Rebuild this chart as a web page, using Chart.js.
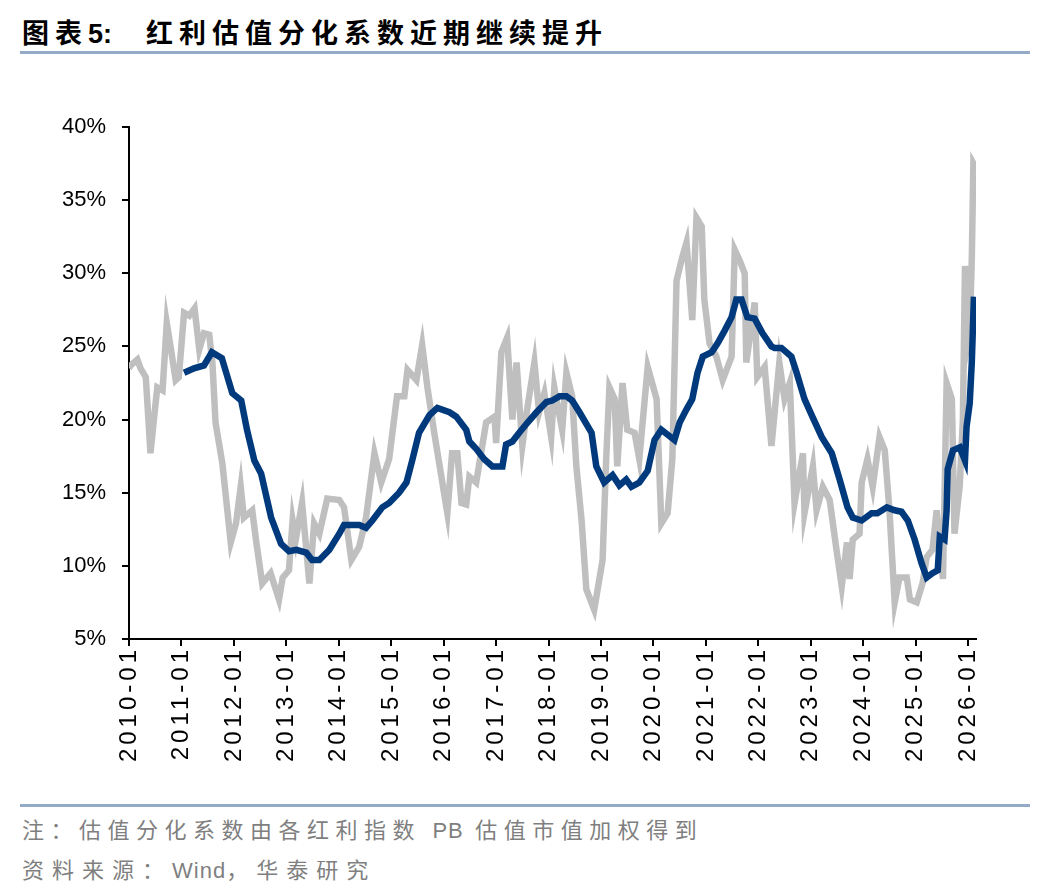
<!DOCTYPE html>
<html>
<head>
<meta charset="utf-8">
<script src="https://cdn.jsdelivr.net/npm/chart.js@4.4.1/dist/chart.umd.min.js"></script>
<style>
  body { margin: 0; background: #fff; width: 1048px; height: 896px; position: relative; overflow: hidden; }
  .title { position: absolute; left: 22px; top: 12px; font-family: "Noto Sans CJK SC", sans-serif; font-weight: bold; font-size: 27px; color: #000; letter-spacing: 6px; white-space: nowrap; }
  .title .num { letter-spacing: 0; font-family: "Liberation Sans", Arial, sans-serif; margin-right: 34px; }
  .rule { position: absolute; left: 20px; width: 1010px; height: 3px; background: #94aac6; }
  .note { position: absolute; left: 22px; font-family: "Noto Sans CJK SC", sans-serif; font-size: 22px; color: #7f7f7f; letter-spacing: 6.5px; white-space: nowrap; }
  .note .lat { font-family: "Liberation Sans", Arial, sans-serif; letter-spacing: 1px; }
  #wrap { position: absolute; left: 0; top: 60px; width: 1048px; height: 740px; }
</style>
</head>
<body>
<div class="title">图表<span class="num">5:</span>红利估值分化系数近期继续提升</div>
<div class="rule" style="top:51px"></div>
<div id="wrap"><canvas id="chart" width="1048" height="740"></canvas></div>
<div class="rule" style="top:804px"></div>
<div class="note" style="top:812px">注：估值分化系数由各红利指数 <span class="lat">PB</span> 估值市值加权得到</div>
<div class="note" style="top:852px; letter-spacing: 8px">资料来源：<span class="lat">Wind</span>，华泰研究</div>

<script>
// 灰线：估值分化系数（原始）
const greyX = [
  2010.00, 2010.03, 2010.16, 2010.22, 2010.32, 2010.41, 2010.48, 2010.54, 2010.64, 2010.72,
  2010.80, 2010.89, 2010.95, 2011.05, 2011.15, 2011.25, 2011.34, 2011.43, 2011.53, 2011.59,
  2011.65, 2011.78, 2011.94, 2012.04, 2012.13, 2012.19, 2012.35, 2012.42, 2012.54, 2012.70,
  2012.86, 2012.93, 2013.05, 2013.12, 2013.18, 2013.30, 2013.44, 2013.53, 2013.63, 2013.78,
  2014.01, 2014.10, 2014.24, 2014.39, 2014.52, 2014.68, 2014.81, 2014.96, 2015.11, 2015.25,
  2015.31, 2015.48, 2015.59, 2015.69, 2015.82, 2016.07, 2016.16, 2016.26, 2016.34, 2016.43,
  2016.49, 2016.62, 2016.81, 2016.97, 2017.00, 2017.10, 2017.21, 2017.31, 2017.39, 2017.50,
  2017.60, 2017.73, 2017.82, 2017.92, 2018.05, 2018.11, 2018.26, 2018.34, 2018.45, 2018.53,
  2018.63, 2018.72, 2018.87, 2019.03, 2019.10, 2019.16, 2019.26, 2019.31, 2019.41, 2019.50,
  2019.64, 2019.73, 2019.89, 2020.06, 2020.15, 2020.27, 2020.36, 2020.44, 2020.55, 2020.63,
  2020.74, 2020.82, 2020.92, 2020.97, 2021.07, 2021.20, 2021.32, 2021.49, 2021.55, 2021.64,
  2021.74, 2021.77, 2021.93, 2021.98, 2022.12, 2022.25, 2022.40, 2022.50, 2022.60, 2022.69,
  2022.85, 2022.88, 2023.04, 2023.11, 2023.23, 2023.36, 2023.49, 2023.59, 2023.69, 2023.74,
  2023.80, 2023.93, 2023.97, 2024.08, 2024.18, 2024.31, 2024.41, 2024.50, 2024.60, 2024.69,
  2024.83, 2024.89, 2025.02, 2025.13, 2025.21, 2025.32, 2025.40, 2025.52, 2025.59, 2025.69,
  2025.74, 2025.84, 2025.90, 2025.94, 2025.99, 2026.03, 2026.07, 2026.10, 2026.13, 2026.15
];
const greyY = [
  23.5, 23.7, 24.1, 23.5, 22.9, 17.7, 20.2, 22.2, 22.0, 26.6,
  24.8, 22.7, 22.9, 27.3, 27.1, 27.6, 24.8, 25.9, 25.8, 23.9,
  19.8, 17.0, 11.6, 12.9, 15.4, 13.3, 13.8, 11.8, 8.8, 9.5,
  7.7, 9.2, 9.7, 13.1, 11.8, 14.3, 8.8, 12.9, 12.2, 14.6,
  14.5, 14.0, 10.4, 11.3, 13.3, 17.7, 15.7, 17.3, 21.6, 21.6,
  23.4, 22.7, 25.1, 22.2, 19.1, 13.6, 17.7, 17.7, 14.3, 14.2,
  16.1, 15.7, 19.8, 20.2, 18.4, 24.6, 25.6, 20.0, 23.9, 18.2,
  20.9, 23.9, 20.5, 21.8, 18.8, 22.2, 19.3, 23.2, 21.6, 16.8,
  13.1, 8.4, 7.0, 10.4, 17.4, 22.2, 21.4, 16.8, 22.5, 19.3,
  19.1, 17.3, 23.6, 21.4, 12.9, 13.6, 17.3, 29.5, 31.1, 32.1,
  26.8, 33.8, 33.2, 28.2, 25.2, 24.3, 22.7, 24.3, 31.6, 30.9,
  30.0, 23.9, 28.0, 22.9, 23.6, 18.2, 23.9, 21.4, 22.5, 14.3,
  17.7, 13.6, 16.8, 13.8, 15.4, 14.5, 11.1, 8.6, 11.6, 9.1,
  11.8, 12.2, 15.7, 17.3, 15.4, 18.8, 17.9, 13.8, 7.5, 9.2,
  9.2, 7.7, 7.5, 8.8, 10.6, 11.1, 13.8, 9.1, 22.5, 21.4,
  12.2, 15.5, 20.0, 30.5, 25.2, 26.0, 31.0, 37.5, 37.3, 36.8
];

// 蓝线：平滑后的分化系数
const navyX = [
  2011.05, 2011.24, 2011.43, 2011.58, 2011.77, 2011.97, 2012.14, 2012.25, 2012.39, 2012.52,
  2012.71, 2012.90, 2013.05, 2013.19, 2013.38, 2013.49, 2013.63, 2013.82, 2014.01, 2014.10,
  2014.39, 2014.52, 2014.64, 2014.83, 2014.96, 2015.15, 2015.29, 2015.40, 2015.53, 2015.73,
  2015.88, 2016.11, 2016.24, 2016.43, 2016.49, 2016.62, 2016.77, 2016.93, 2017.12, 2017.19,
  2017.31, 2017.44, 2017.60, 2017.77, 2017.96, 2018.07, 2018.21, 2018.34, 2018.45, 2018.59,
  2018.82, 2018.91, 2019.06, 2019.22, 2019.35, 2019.48, 2019.58, 2019.73, 2019.89, 2020.02,
  2020.15, 2020.40, 2020.50, 2020.63, 2020.74, 2020.84, 2020.94, 2021.11, 2021.22, 2021.36,
  2021.49, 2021.58, 2021.68, 2021.79, 2021.93, 2022.08, 2022.25, 2022.31, 2022.44, 2022.63,
  2022.73, 2022.88, 2023.03, 2023.21, 2023.40, 2023.55, 2023.70, 2023.80, 2023.97, 2024.16,
  2024.27, 2024.45, 2024.60, 2024.73, 2024.85, 2024.98, 2025.11, 2025.21, 2025.32, 2025.42,
  2025.46, 2025.55, 2025.59, 2025.61, 2025.71, 2025.84, 2025.94, 2025.97, 2026.03, 2026.07,
  2026.11
];
const navyY = [
  23.2, 23.5, 23.7, 24.6, 24.2, 21.8, 21.3, 19.3, 17.2, 16.3,
  13.3, 11.5, 11.0, 11.1, 10.9, 10.4, 10.4, 11.1, 12.2, 12.8,
  12.8, 12.6, 13.1, 14.0, 14.3, 15.0, 15.7, 17.2, 19.1, 20.3,
  20.8, 20.5, 20.2, 19.3, 18.5, 18.0, 17.3, 16.8, 16.8, 18.3,
  18.5, 19.1, 19.8, 20.5, 21.2, 21.3, 21.6, 21.6, 21.3, 20.5,
  19.1, 16.8, 15.7, 16.2, 15.5, 15.9, 15.4, 15.7, 16.5, 18.6,
  19.3, 18.6, 19.8, 20.7, 21.4, 23.2, 24.3, 24.6, 25.2, 26.1,
  27.0, 28.2, 28.2, 27.0, 26.9, 25.9, 25.0, 24.9, 24.9, 24.3,
  23.2, 21.4, 20.2, 18.8, 17.7, 15.9, 14.0, 13.3, 13.1, 13.6,
  13.6, 14.0, 13.8, 13.7, 13.1, 11.8, 10.2, 9.2, 9.5, 9.7,
  12.0, 11.8, 13.8, 16.6, 17.9, 18.1, 17.2, 19.5, 21.1, 23.9,
  28.4
];

const xTickYears = [2010, 2011, 2012, 2013, 2014, 2015, 2016, 2017, 2018, 2019, 2020, 2021, 2022, 2023, 2024, 2025, 2026];
const yTicks = [5, 10, 15, 20, 25, 30, 35, 40];

const toPoints = (xs, ys) => xs.map((x, i) => ({ x: x, y: ys[i] }));

// x 轴标签字距拉开（原图的日期标签字符间距较大）
const xLabelSpacing = {
    id: 'xLabelSpacing',
    beforeDraw(chart) {
        const s = chart.scales.x;
        if (s && !s._spaced) {
            const orig = s.drawLabels;
            s.drawLabels = function (area) {
                const c = this.ctx;
                c.save();
                c.letterSpacing = '4px';
                orig.call(this, area);
                c.restore();
            };
            s._spaced = true;
        }
    }
};

const ctx = document.getElementById('chart').getContext('2d');
new Chart(ctx, {
    type: 'line',
    data: {
        datasets: [
            {
                label: '灰线',
                data: toPoints(greyX, greyY),
                borderColor: '#bfbfbf',
                borderWidth: 6.5,
                pointRadius: 0,
                tension: 0,
                order: 2
            },
            {
                label: '蓝线',
                data: toPoints(navyX, navyY),
                borderColor: '#003a7d',
                borderWidth: 6.5,
                pointRadius: 0,
                tension: 0,
                order: 1
            }
        ]
    },
    plugins: [xLabelSpacing],
    options: {
        responsive: false,
        animation: false,
        layout: { padding: { top: 67, right: 72, bottom: 0, left: 0 } },
        plugins: {
            legend: { display: false },
            tooltip: { enabled: false }
        },
        scales: {
            x: {
                type: 'linear',
                min: 2010,
                max: 2026.15,
                afterBuildTicks: s => { s.ticks = xTickYears.map(v => ({ value: v })); },
                afterFit: s => { s.height = 161; },
                border: { display: true, color: '#000', width: 2 },
                grid: { display: true, drawOnChartArea: false, drawTicks: true, tickLength: 7, color: '#000', lineWidth: 2 },
                ticks: {
                    autoSkip: false,
                    minRotation: 90,
                    maxRotation: 90,
                    padding: 0,
                    color: '#000',
                    font: { family: '"Liberation Sans", Arial, sans-serif', size: 24 },
                    callback: v => v + '-01'
                }
            },
            y: {
                min: 5,
                max: 40,
                afterBuildTicks: s => { s.ticks = yTicks.map(v => ({ value: v })); },
                afterFit: s => { s.width = 129; },
                border: { display: true, color: '#000', width: 2 },
                grid: { display: true, drawOnChartArea: false, drawTicks: true, tickLength: 7, color: '#000', lineWidth: 2 },
                ticks: {
                    padding: 16,
                    color: '#000',
                    font: { family: '"Liberation Sans", Arial, sans-serif', size: 22 },
                    callback: v => v + '%'
                }
            }
        }
    }
});
</script>
</body>
</html>
